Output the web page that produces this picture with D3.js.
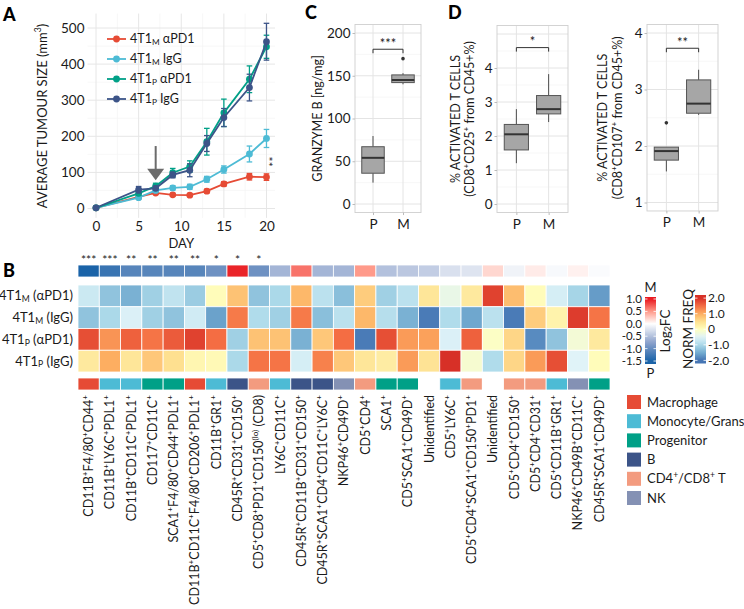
<!DOCTYPE html>
<html><head><meta charset="utf-8">
<script src="https://cdn.jsdelivr.net/npm/d3@7"></script>
<style>body{margin:0;background:#fff} text{font-family:Lato,'Open Sans',sans-serif}</style>
</head><body><svg id="c" width="744" height="609" xmlns="http://www.w3.org/2000/svg"></svg>
<script>
// ---------------- DATA ----------------
// Panel A
const days = [0,5,7,9,11,13,15,18,20];
const seriesNames = ["4T1_M αPD1","4T1_M IgG","4T1_P αPD1","4T1_P IgG"];
const mPD1 = [2,32,43,38,37,48,68,88,87];
const mPD1Err = [0,3,4,4,4,5,6,9,9];
const mIgG = [2,30,50,57,60,81,108,151,194];
const mIgGErr = [0,4,5,6,7,8,10,22,25];
const pPD1 = [2,42,62,99,116,185,265,358,448];
const pPD1Err = [0,6,8,12,16,37,38,37,32];
const pIgG = [2,52,56,93,106,180,252,335,462];
const pIgGErr = [0,9,6,8,18,22,25,37,51];
const yTicksA = [0,100,200,300,400,500];
const xTicksA = [0,5,10,15,20];
// Panel C
const boxCats = ["P","M"];
const grzStats = [[25,36,54,67,79.5],[140,142,145,151,153]]; // min,q1,median,q3,max
const grzOut = [[],[170]];
const grzTicks = [0,50,100,150,200];
// Panel D
const cd25Stats = [[1.2,1.59,2.05,2.34,2.79],[2.41,2.65,2.79,3.19,3.82]];
const cd25Out = [[],[]];
const cd25Ticks = [0,1,2,3,4];
const cd107Stats = [[1.55,1.75,1.91,1.98,1.98],[2.55,2.58,2.75,3.17,3.35]];
const cd107Out = [[2.41],[]];
const cd107Ticks = [1,2,3,4];
// Panel B
const cellTypes = [
"CD11B^+F4/80^+CD44^+","CD11B^+LY6C^+PDL1^+","CD11B^+CD11C^+PDL1^+","CD117^+CD11C^+",
"SCA1^+F4/80^+CD44^+PDL1^+","CD11B^+CD11C^+F4/80^+CD206^+PDL1^+","CD11B^+GR1^+","CD45R^+CD31^+CD150^+",
"CD5^+CD8^+PD1^+CD150^{(lo)} (CD8)","LY6C^+CD11C^+","CD45R^+CD11B^+CD31^+CD150^+","CD45R^+SCA1^+CD4^+CD11C^+LY6C^+",
"NKP46^+CD49D^+","CD5^+CD4^+","SCA1^+","CD5^+SCA1^+CD49D^+","Unidentified","CD5^+LY6C^+",
"CD5^+CD4^+SCA1^+CD150^+PD1^+","Unidentified","CD5^+CD4^+CD150^+","CD5^+CD4^+CD31^+","CD5^+CD11B^+GR1^+",
"NKP46^+CD49B^+CD11C^+","CD45R^+SCA1^+CD49D^+"];
const cellGroup = ["Macrophage","Monocyte/Grans","Monocyte/Grans","Progenitor","Progenitor","Macrophage","Monocyte/Grans","B","CD4+/CD8+ T","Monocyte/Grans","B","B","NK","CD4+/CD8+ T","Progenitor","Progenitor","","Monocyte/Grans","CD4+/CD8+ T","","CD4+/CD8+ T","CD4+/CD8+ T","Monocyte/Grans","NK","Progenitor"];
const signif = ["***","***","**","**","**","**","*","*","*","","","","","","","","","","","","","","","",""];
const log2FC = [-1.5,-1.3,-1.1,-1.1,-1.1,-1.1,-0.95,0.95,-0.95,-0.6,0.65,-0.6,-0.6,0.5,-0.5,-0.45,-0.4,-0.25,-0.22,0.2,-0.1,0.1,-0.05,0.07,-0.03];
const sampleNames = ["4T1_M (αPD1)","4T1_M (IgG)","4T1_P (αPD1)","4T1_P (IgG)"];
const freqMaPD1 = [-0.7,-1.25,-1.45,-1.1,-0.8,-1.15,0.05,0.8,-1.25,-1.0,0.9,-0.85,-1.3,0.7,-1.1,-0.85,0.4,-0.35,0.35,1.85,0.85,0.05,-0.6,-1.05,-1.65];
const freqMIgG  = [-1.25,-1.0,-0.55,-1.1,-1.25,-0.65,-1.6,1.4,-0.95,-1.1,1.4,-1.3,-0.85,0.9,-0.9,-1.45,-1.95,-0.95,-1.55,-0.85,-1.95,0.7,0.2,1.9,1.45];
const freqPaPD1 = [1.75,1.2,1.6,1.45,1.65,1.85,1.5,-1.1,0.8,0.8,-1.45,0.75,1.5,-1.95,1.75,1.15,1.1,-0.55,1.6,-0.05,0.6,-1.8,-1.25,-0.2,0.35];
const freqPIgG  = [0.35,1.0,0.4,0.75,0.5,0.15,0.1,-1.0,1.45,1.45,-0.6,1.35,0.75,0.4,0.3,1.15,0.45,2.0,-0.15,-0.95,0.6,1.15,1.75,-0.5,0.05];
const groupNames = ["Macrophage","Monocyte/Grans","Progenitor","B","CD4^+/CD8^+ T","NK"];
const groupKeys = ["Macrophage","Monocyte/Grans","Progenitor","B","CD4+/CD8+ T","NK"];
const fcTicks = [1.0,0.5,0.0,-0.5,-1.0,-1.5];
const nfTicks = [2,1,0,-1,-2];

// ---------------- STYLE ----------------
const seriesColors = ["#E64B35","#4DBBD5","#00A087","#3C5488"];
const groupColors = {"Macrophage":"#E64B35","Monocyte/Grans":"#4DBBD5","Progenitor":"#00A087","B":"#3C5488","CD4+/CD8+ T":"#F39B7F","NK":"#8491B4"};
const nfColor = d3.scaleLinear().domain([-2,-1.5,-1,-0.5,0,0.5,1,1.5,2])
  .range(["#4575b4","#74add1","#abd9e9","#e0f3f8","#ffffbf","#fee090","#fdae61","#f46d43","#d73027"]).clamp(true);
const fcColor = d3.scaleLinear().domain([-1.5,-0.75,0,0.5,1]).range(["#1a63a8","#8da2cc","#ffffff","#ff9a8a","#e8171e"]).clamp(true);
const TXT = "#1a1a1a";

const svg = d3.select("#c");

function rich(sel, str, fs){
  const re = /\^\{([^}]*)\}|_\{([^}]*)\}|\^(.)|_(.)/g;
  let last=0, m, parts=[];
  while((m=re.exec(str))){
    if(m.index>last) parts.push([str.slice(last,m.index),0]);
    if(m[1]!==undefined) parts.push([m[1],1]);
    else if(m[2]!==undefined) parts.push([m[2],2]);
    else if(m[3]!==undefined) parts.push([m[3],1]);
    else parts.push([m[4],2]);
    last=re.lastIndex;
  }
  if(last<str.length) parts.push([str.slice(last),0]);
  let cur=0;
  parts.forEach(([t,k])=>{
    const target = k===1 ? -fs*0.4 : (k===2 ? fs*0.12 : 0);
    const ts = sel.append("tspan").text(t);
    if(Math.abs(target-cur)>0.001) ts.attr("dy", target-cur);
    if(k) ts.attr("font-size", fs*0.66);
    cur = target;
  });
  return sel;
}
function styleAxis(g, fs){
  g.select(".domain").remove();
  g.selectAll("text").attr("font-size",fs).attr("fill",TXT).attr("font-family","Lato");
}
function letter(t,x,y){ svg.append("text").attr("x",x).attr("y",y).attr("font-size",18).attr("font-weight",900).attr("fill","#000").text(t); }

// ---------------- PANEL A ----------------
{
  const g = svg.append("g");
  const x = d3.scaleLinear().domain([-1,21]).range([87.5,275]);
  const y = d3.scaleLinear().domain([0,500]).range([208.5,28]);
  const top=y(540), bot=y(-26);
  [2.5,7.5,12.5,17.5].forEach(v=>g.append("line").attr("x1",x(v)).attr("x2",x(v)).attr("y1",top).attr("y2",bot).attr("stroke","#f3f3f3").attr("stroke-width",0.7));
  [50,150,250,350,450].forEach(v=>g.append("line").attr("y1",y(v)).attr("y2",y(v)).attr("x1",x(-1)).attr("x2",x(21)).attr("stroke","#f3f3f3").attr("stroke-width",0.7));
  xTicksA.forEach(v=>g.append("line").attr("x1",x(v)).attr("x2",x(v)).attr("y1",top).attr("y2",bot).attr("stroke","#e6e6e6").attr("stroke-width",1));
  yTicksA.forEach(v=>g.append("line").attr("y1",y(v)).attr("y2",y(v)).attr("x1",x(-1)).attr("x2",x(21)).attr("stroke","#e6e6e6").attr("stroke-width",1));
  g.append("g").attr("transform",`translate(${x(-1)},0)`).call(d3.axisLeft(y).tickValues(yTicksA).tickFormat(d3.format("d")).tickSize(0).tickPadding(3)).call(a=>styleAxis(a,13.5));
  g.append("g").attr("transform",`translate(0,${bot})`).call(d3.axisBottom(x).tickValues(xTicksA).tickFormat(d3.format("d")).tickSize(0).tickPadding(4)).call(a=>styleAxis(a,13.5));
  rich(g.append("text").attr("transform","translate(42,116) rotate(-90)").attr("y",4.5).attr("text-anchor","middle").attr("font-size",13).attr("fill",TXT),"AVERAGE TUMOUR SIZE (mm^3)",13);
  g.append("text").attr("x",x(10)).attr("y",248).attr("text-anchor","middle").attr("font-size",13).attr("fill",TXT).text("DAY");
  // arrow
  const ax = x(7);
  g.append("line").attr("x1",ax).attr("x2",ax).attr("y1",y(173)).attr("y2",y(105)).attr("stroke","#6b6b6b").attr("stroke-width",2);
  g.append("path").attr("d",`M${ax-8.5},${y(110)}L${ax+8.5},${y(110)}L${ax},${y(78)}Z`).attr("fill","#6b6b6b");
  const series = [[mPD1,mPD1Err],[mIgG,mIgGErr],[pPD1,pPD1Err],[pIgG,pIgGErr]];
  const line = d3.line().x((d,i)=>x(days[i])).y(d=>y(d));
  series.forEach(([vals,errs],si)=>{
    const c = seriesColors[si];
    const sg = g.append("g");
    vals.forEach((v,i)=>{
      if(errs[i]>0){
        sg.append("line").attr("x1",x(days[i])).attr("x2",x(days[i])).attr("y1",y(v-errs[i])).attr("y2",y(v+errs[i])).attr("stroke",c).attr("stroke-width",1.3);
        [v-errs[i],v+errs[i]].forEach(e=>sg.append("line").attr("x1",x(days[i])-2.8).attr("x2",x(days[i])+2.8).attr("y1",y(e)).attr("y2",y(e)).attr("stroke",c).attr("stroke-width",1.3));
      }
    });
    sg.append("path").attr("d",line(vals)).attr("fill","none").attr("stroke",c).attr("stroke-width",1.8);
    sg.selectAll("circle").data(vals).join("circle").attr("cx",(d,i)=>x(days[i])).attr("cy",d=>y(d)).attr("r",3.4).attr("fill",c);
  });
  g.append("text").attr("transform",`translate(${x(20.9)},${y(130)}) rotate(-90)`).attr("y",4).attr("text-anchor","middle").attr("font-size",12).attr("fill",TXT).text("**");
  // legend
  seriesNames.forEach((n,i)=>{
    const ly = 39 + i*20;
    g.append("line").attr("x1",107).attr("x2",126).attr("y1",ly).attr("y2",ly).attr("stroke",seriesColors[i]).attr("stroke-width",1.8);
    g.append("circle").attr("cx",116.5).attr("cy",ly).attr("r",3.4).attr("fill",seriesColors[i]);
    rich(g.append("text").attr("x",130).attr("y",ly+4.3).attr("font-size",12.5).attr("fill",TXT),n,12.5);
  });
  letter("A",3,21);
}

// ---------------- BOX PANELS ----------------
function boxPanel(o){
  const g = svg.append("g");
  const x = d3.scaleLinear().domain([0.4,2.6]).range([o.x0,o.x1]);
  const y = d3.scaleLinear().domain(o.yDom).range(o.yRange);
  const top=y(o.lim[1]), bot=y(o.lim[0]);
  o.minor.forEach(v=>g.append("line").attr("x1",o.x0).attr("x2",o.x1).attr("y1",y(v)).attr("y2",y(v)).attr("stroke","#f3f3f3").attr("stroke-width",0.7));
  o.major.forEach(v=>g.append("line").attr("x1",o.x0).attr("x2",o.x1).attr("y1",y(v)).attr("y2",y(v)).attr("stroke","#e4e4e4").attr("stroke-width",1));
  [1,2].forEach(v=>g.append("line").attr("x1",x(v)).attr("x2",x(v)).attr("y1",top).attr("y2",bot).attr("stroke","#e4e4e4").attr("stroke-width",1));
  g.append("rect").attr("x",o.x0).attr("y",top).attr("width",o.x1-o.x0).attr("height",bot-top).attr("fill","none").attr("stroke","#cfcfcf").attr("stroke-width",0.9);
  g.append("g").attr("transform",`translate(${o.x0},0)`).call(d3.axisLeft(y).tickValues(o.ticks).tickFormat(d3.format("d")).tickSize(2.5).tickPadding(2)).call(a=>{styleAxis(a,13.5);a.selectAll("line").attr("stroke","#bbb");});
  g.append("g").attr("transform",`translate(0,${bot})`).call(d3.axisBottom(x).tickValues([1,2]).tickFormat((d,i)=>boxCats[i]).tickSize(2.5).tickPadding(4)).call(a=>{styleAxis(a,13.5);a.selectAll("line").attr("stroke","#bbb");});
  const hw = 0.375*(x(2)-x(1));
  o.stats.forEach((s,i)=>{
    const cx = x(i+1);
    g.append("line").attr("x1",cx).attr("x2",cx).attr("y1",y(s[0])).attr("y2",y(s[1])).attr("stroke","#4d4d4d").attr("stroke-width",1);
    g.append("line").attr("x1",cx).attr("x2",cx).attr("y1",y(s[3])).attr("y2",y(s[4])).attr("stroke","#4d4d4d").attr("stroke-width",1);
    g.append("rect").attr("x",cx-hw).attr("y",y(s[3])).attr("width",2*hw).attr("height",y(s[1])-y(s[3])).attr("fill","#a6a6a6").attr("stroke","#555").attr("stroke-width",1);
    g.append("line").attr("x1",cx-hw).attr("x2",cx+hw).attr("y1",y(s[2])).attr("y2",y(s[2])).attr("stroke","#333").attr("stroke-width",2);
    o.out[i].forEach(v=>g.append("circle").attr("cx",cx).attr("cy",y(v)).attr("r",1.8).attr("fill","#333"));
  });
  const yb = y(o.bracket), tk = 4;
  g.append("path").attr("d",`M${x(1)},${yb+tk}V${yb}H${x(2)}V${yb+tk}`).attr("fill","none").attr("stroke","#333").attr("stroke-width",1);
  g.append("text").attr("x",(x(1)+x(2))/2).attr("y",yb-1.5).attr("text-anchor","middle").attr("font-size",13).attr("fill",TXT).text(o.star);
  o.titles.forEach((t,i)=>{
    rich(g.append("text").attr("transform",`translate(${o.titleX[i]},${(top+bot)/2}) rotate(-90)`).attr("y",4.5).attr("text-anchor","middle").attr("font-size",12.5).attr("fill",TXT),t,12.5);
  });
}
boxPanel({x0:355,x1:421,yDom:[0,200],yRange:[204,33],lim:[-10,210],ticks:grzTicks,major:[0,50,100,150,200],minor:[25,75,125,175],
  stats:grzStats,out:grzOut,bracket:181,star:"***",titles:["GRANZYME B [ng/mg]"],titleX:[317]});
boxPanel({x0:497,x1:568,yDom:[0,4],yRange:[204,68],lim:[-0.25,5.25],ticks:cd25Ticks,major:[0,1,2,3,4,5],minor:[0.5,1.5,2.5,3.5,4.5],
  stats:cd25Stats,out:cd25Out,bracket:4.6,star:"*",titles:["% ACTIVATED T CELLS","(CD8^+CD25^+ from CD45+%)"],titleX:[455,469]});
boxPanel({x0:647,x1:718,yDom:[1,4],yRange:[202.5,33],lim:[0.85,4.15],ticks:cd107Ticks,major:[1,2,3,4],minor:[1.5,2.5,3.5],
  stats:cd107Stats,out:cd107Out,bracket:3.73,star:"**",titles:["% ACTIVATED T CELLS","(CD8^+CD107^+ from CD45+%)"],titleX:[602,617]});
letter("C",305,19);
letter("D",448,19);

// ---------------- PANEL B HEATMAP ----------------
{
  const g = svg.append("g");
  const x = d3.scaleBand().domain(d3.range(cellTypes.length)).range([78,610]);
  const y = d3.scaleBand().domain(d3.range(4)).range([285,372]);
  const rows = [freqMaPD1,freqMIgG,freqPaPD1,freqPIgG];
  rows.forEach((r,ri)=>{
    g.selectAll(null).data(r).join("rect").attr("x",(d,i)=>x(i)).attr("y",y(ri)).attr("width",x.bandwidth()).attr("height",y.bandwidth())
     .attr("fill",d=>nfColor(d)).attr("stroke","#fff").attr("stroke-width",0.8);
  });
  // top log2FC bar
  g.selectAll(null).data(log2FC).join("rect").attr("x",(d,i)=>x(i)).attr("y",265).attr("width",x.bandwidth()).attr("height",12)
    .attr("fill",d=>fcColor(d)).attr("stroke","#fff").attr("stroke-width",0.8);
  g.selectAll(null).data(signif).join("text").attr("x",(d,i)=>x(i)+x.bandwidth()/2).attr("y",264).attr("text-anchor","middle")
    .attr("font-size",12).attr("fill",TXT).text(d=>d);
  // bottom group bar
  g.selectAll(null).data(cellGroup).join("rect").attr("x",(d,i)=>x(i)).attr("y",378).attr("width",x.bandwidth()).attr("height",12)
    .attr("fill",d=>d?groupColors[d]:"#fff").attr("stroke","#fff").attr("stroke-width",0.8);
  // row labels
  sampleNames.forEach((n,i)=>rich(g.append("text").attr("x",73).attr("y",y(i)+y.bandwidth()/2+4.6).attr("text-anchor","end").attr("font-size",13).attr("fill",TXT),n,13));
  // column labels
  cellTypes.forEach((n,i)=>rich(g.append("text").attr("transform",`translate(${x(i)+x.bandwidth()/2},395) rotate(-90)`).attr("y",4.4).attr("text-anchor","end").attr("font-size",12.5).attr("fill",TXT),n,12.5));
  letter("B",3,277);

  // colour bars
  const defs = svg.append("defs");
  function bar(id, scale, dom, x0, y0, y1, ticks, labX, anchor, fmt, fs){
    const yS = d3.scaleLinear().domain(dom).range([y1,y0]);
    const gr = defs.append("linearGradient").attr("id",id).attr("x1",0).attr("x2",0).attr("y1",1).attr("y2",0);
    d3.range(0,1.0001,0.05).forEach(t=>gr.append("stop").attr("offset",t).attr("stop-color",scale(dom[0]+t*(dom[1]-dom[0]))));
    g.append("rect").attr("x",x0).attr("y",y0).attr("width",11).attr("height",y1-y0).attr("fill",`url(#${id})`);
    ticks.forEach(v=>{
      const ty = yS(v);
      g.append("line").attr("x1",x0).attr("x2",x0+2.5).attr("y1",ty).attr("y2",ty).attr("stroke","#fff").attr("stroke-width",0.8);
      g.append("line").attr("x1",x0+8.5).attr("x2",x0+11).attr("y1",ty).attr("y2",ty).attr("stroke","#fff").attr("stroke-width",0.8);
      g.append("text").attr("x",labX).attr("y",ty+fs*0.35).attr("text-anchor",anchor).attr("font-size",fs).attr("fill",TXT).text(fmt(v));
    });
  }
  bar("gfc", fcColor, [-1.62,1.08], 645, 297, 364, fcTicks, 642, "end", v=>v.toFixed(1), 11.5);
  bar("gnf", nfColor, [-2.2,2.2], 695, 295, 363.5, nfTicks, 708, "start", v=>v===0?"0":v.toFixed(1), 12);
  g.append("text").attr("x",650.5).attr("y",292).attr("text-anchor","middle").attr("font-size",13).attr("fill",TXT).text("M");
  g.append("text").attr("x",650.5).attr("y",378).attr("text-anchor","middle").attr("font-size",13).attr("fill",TXT).text("P");
  rich(g.append("text").attr("transform","translate(665,331) rotate(-90)").attr("y",4.5).attr("text-anchor","middle").attr("font-size",13.5).attr("fill",TXT),"Log_2FC",13.5);
  g.append("text").attr("transform","translate(688,329) rotate(-90)").attr("y",4.8).attr("text-anchor","middle").attr("font-size",13.5).attr("fill",TXT).text("NORM FREQ");

  // group legend
  groupKeys.forEach((k,i)=>{
    const ly = 395 + i*19.2;
    g.append("rect").attr("x",627).attr("y",ly).attr("width",14).attr("height",14).attr("fill",groupColors[k]);
    rich(g.append("text").attr("x",647).attr("y",ly+11.5).attr("font-size",13).attr("fill",TXT),groupNames[i],13);
  });
}
</script></body></html>
